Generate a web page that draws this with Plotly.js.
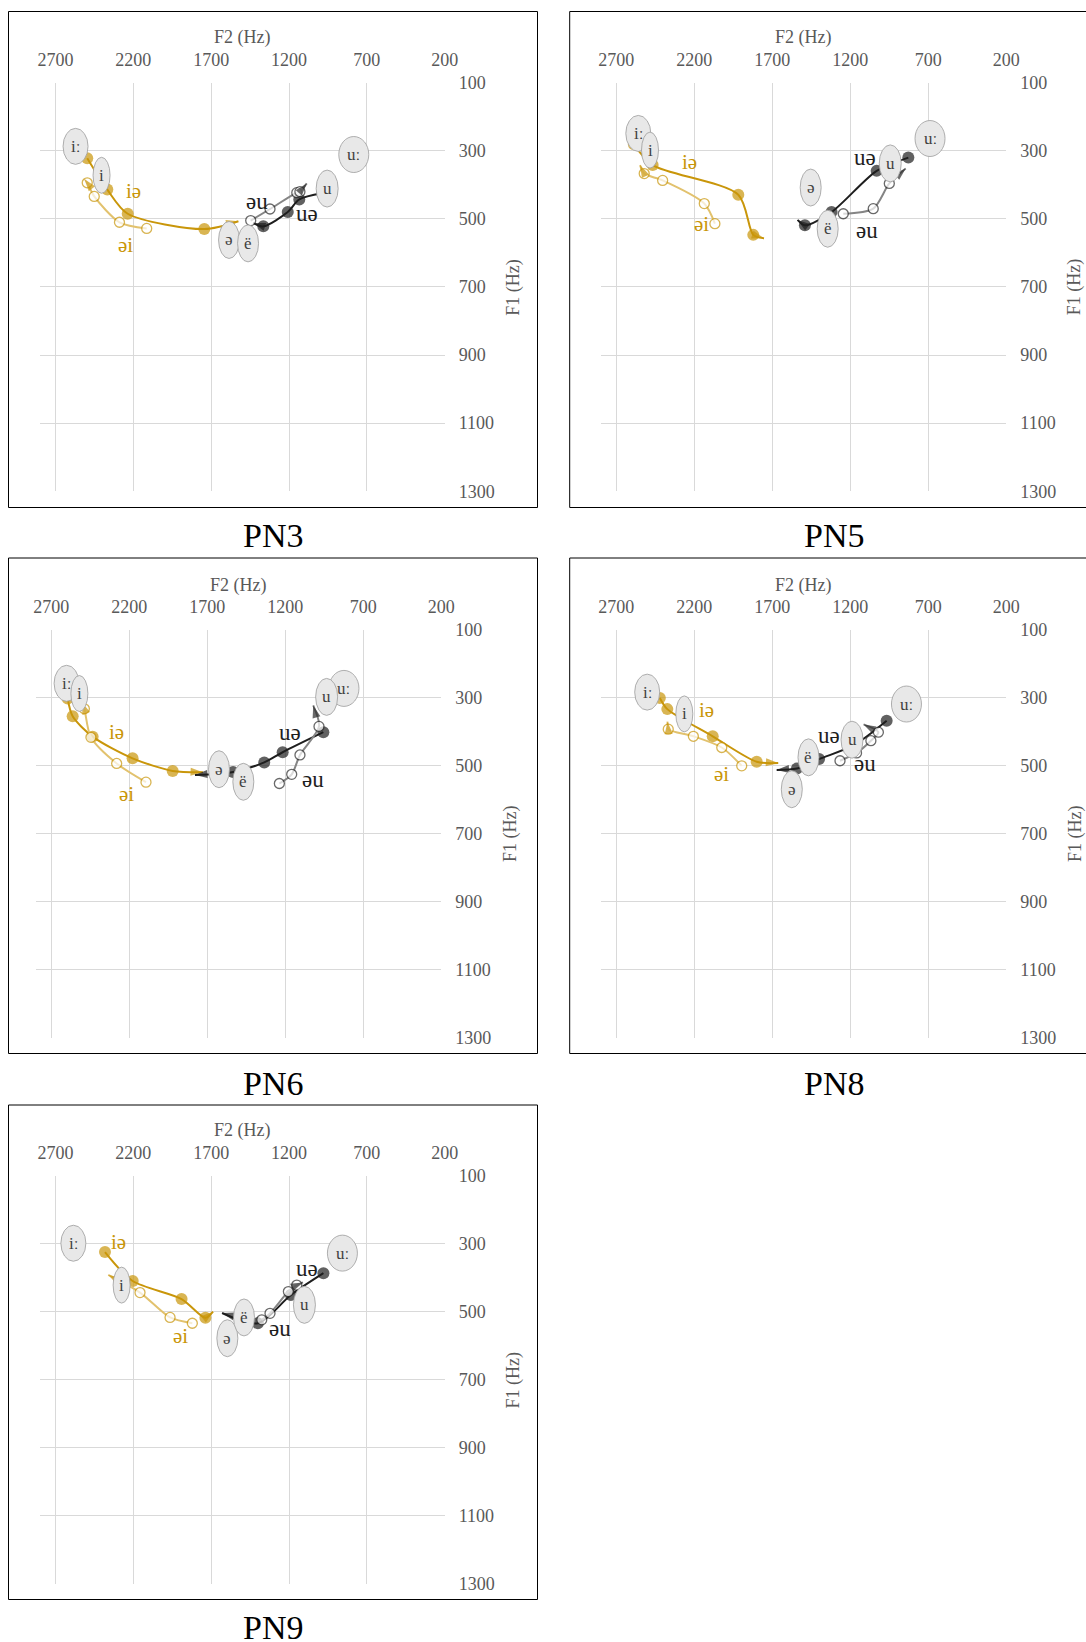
<!DOCTYPE html>
<html><head><meta charset="utf-8">
<script src="https://cdn.plot.ly/plotly-3.0.1.min.js"></script>
<style>html,body{margin:0;padding:0;background:#fff;} #chart{width:1086px;height:1642px;}</style>
</head><body><div id="chart"></div>
<script>
// ---------------- DATA ----------------
const panelNames = ['PN3', 'PN5', 'PN6', 'PN8', 'PN9'];
const vowelLabels = ['iː', 'i', 'uː', 'u', 'ə', 'ë'];
const diphLabels = ['iə', 'əi', 'uə', 'əu'];
const xTickVals = [2700, 2200, 1700, 1200, 700, 200];
const yTickVals = [100, 300, 500, 700, 900, 1100, 1300];

// monophthong centres (F2, F1)
const pn3_vowelF2 = [2571, 2404, 784, 955, 1585, 1463];
const pn3_vowelF1 = [287, 372, 311, 411, 562, 572];
const pn5_vowelF2 = [2559, 2484, 689, 944, 1454, 1345];
const pn5_vowelF1 = [249, 298, 264, 337, 408, 529];
const pn6_vowelF2 = [2602, 2520, 824, 935, 1625, 1469];
const pn6_vowelF1 = [257, 287, 272, 297, 510, 547];
const pn8_vowelF2 = [2502, 2264, 840, 1189, 1575, 1468];
const pn8_vowelF1 = [283, 347, 318, 423, 569, 475];
const pn9_vowelF2 = [2585, 2275, 857, 1101, 1596, 1489];
const pn9_vowelF1 = [299, 422, 328, 480, 578, 517];

// diphthong trajectories (last point = arrow tip)
const pn3_ia_F2 = [2496, 2367, 2236, 1744, 1525];
const pn3_ia_F1 = [322, 414, 485, 530, 507];
const pn3_ai_F2 = [2114, 2289, 2451, 2496, 2515];
const pn3_ai_F1 = [528, 510, 434, 394, 383];
const pn3_ua_F2 = [985, 1134, 1208, 1365, 1430];
const pn3_ua_F1 = [425, 443, 480, 522, 512];
const pn3_au_F2 = [1446, 1322, 1150, 1130, 1086];
const pn3_au_F1 = [505, 471, 423, 420, 396];

const pn5_ia_F2 = [2587, 2467, 1918, 1822, 1753];
const pn5_ia_F1 = [281, 342, 429, 547, 557];
const pn5_ai_F2 = [2068, 2136, 2403, 2521, 2548];
const pn5_ai_F1 = [514, 455, 387, 367, 342];
const pn5_ua_F2 = [828, 1031, 1320, 1491, 1538];
const pn5_ua_F1 = [320, 359, 480, 519, 503];
const pn5_au_F2 = [1245, 1053, 950, 845];
const pn5_au_F1 = [485, 470, 396, 352];

const pn6_ia_F2 = [2595, 2563, 2435, 2179, 1922, 1728];
const pn6_ia_F1 = [302, 354, 414, 478, 515, 519];
const pn6_ai_F2 = [2093, 2281, 2446, 2488, 2505];
const pn6_ai_F1 = [548, 493, 416, 332, 312];
const pn6_ua_F2 = [956, 1217, 1335, 1535, 1779];
const pn6_ua_F1 = [401, 460, 490, 518, 527];
const pn6_au_F2 = [1238, 1159, 1106, 984, 1021];
const pn6_au_F1 = [552, 525, 468, 384, 322];

const pn8_ia_F2 = [2421, 2373, 2082, 1800, 1662];
const pn8_ia_F1 = [300, 333, 413, 488, 492];
const pn8_ai_F2 = [1896, 2024, 2206, 2367, 2371];
const pn8_ai_F1 = [500, 446, 413, 392, 370];
const pn8_ua_F2 = [967, 1180, 1400, 1542, 1672];
const pn8_ua_F1 = [367, 440, 480, 508, 512];
const pn8_au_F2 = [1266, 1160, 1068, 1020, 1115];
const pn8_au_F1 = [485, 462, 426, 401, 378];

const pn9_ia_F2 = [2382, 2204, 1890, 1737, 1688];
const pn9_ia_F1 = [325, 410, 463, 518, 500];
const pn9_ai_F2 = [1821, 1964, 2157, 2361];
const pn9_ai_F1 = [534, 517, 444, 392];
const pn9_ua_F2 = [979, 1188, 1400, 1630];
const pn9_ua_F1 = [387, 451, 534, 504];
const pn9_au_F2 = [1375, 1322, 1204, 1150, 1110];
const pn9_au_F1 = [524, 505, 441, 422, 414];

// ---------------- LAYOUT / STYLE ----------------
const W = 1086, H = 1642;
const FONT = "'Liberation Serif', 'Times New Roman', 'DejaVu Serif', serif";
const GOLD = '#C9960A', GOLD_LIGHT = '#E2C26E', DARK = '#1E1E1E', GREY = '#858585';

// plot area boxes in px [left, top, right, bottom]
const plotBox = [
  [39.9, 82.7, 444.7, 491.2],
  [600.7, 82.7, 1006.3, 491.2],
  [35.7, 630, 441.3, 1037.5],
  [600.7, 630, 1006.3, 1037.5],
  [39.9, 1175.5, 444.7, 1584]
];
const borderBox = [
  [8.5, 11.5, 537.5, 507.5],
  [569.7, 11.5, 1100, 507.5],
  [8.5, 558, 537.5, 1053.5],
  [569.7, 558, 1100, 1053.5],
  [8.5, 1105, 537.5, 1599.5]
];
const captionPos = [[272.5, 535], [834, 535], [272.5, 1083], [834, 1083], [272.5, 1627]];
// diphthong label positions, in data units [F2, F1] per panel (iə, əi, uə, əu)
const diphLabelPos = [
  [[2200, 418], [2253, 576], [1086, 483], [1407, 448]],
  [[2228, 333], [2151, 514], [1105, 319], [1092, 534]],
  [[2279, 399], [2215, 583], [1170, 402], [1022, 539]],
  [[2120, 335], [2024, 525], [1339, 411], [1104, 493]],
  [[2298, 296], [1900, 571], [1084, 372], [1258, 548]]
];
const ellipseSize = { 'iː': [25, 36], 'i': [17, 36], 'uː': [30, 36], 'u': [22, 37], 'ə': [21, 37], 'ë': [21, 37] };

const vowelF2 = [pn3_vowelF2, pn5_vowelF2, pn6_vowelF2, pn8_vowelF2, pn9_vowelF2];
const vowelF1 = [pn3_vowelF1, pn5_vowelF1, pn6_vowelF1, pn8_vowelF1, pn9_vowelF1];
const diphs = [
  [[pn3_ia_F2, pn3_ia_F1], [pn3_ai_F2, pn3_ai_F1], [pn3_ua_F2, pn3_ua_F1], [pn3_au_F2, pn3_au_F1]],
  [[pn5_ia_F2, pn5_ia_F1], [pn5_ai_F2, pn5_ai_F1], [pn5_ua_F2, pn5_ua_F1], [pn5_au_F2, pn5_au_F1]],
  [[pn6_ia_F2, pn6_ia_F1], [pn6_ai_F2, pn6_ai_F1], [pn6_ua_F2, pn6_ua_F1], [pn6_au_F2, pn6_au_F1]],
  [[pn8_ia_F2, pn8_ia_F1], [pn8_ai_F2, pn8_ai_F1], [pn8_ua_F2, pn8_ua_F1], [pn8_au_F2, pn8_au_F1]],
  [[pn9_ia_F2, pn9_ia_F1], [pn9_ai_F2, pn9_ai_F1], [pn9_ua_F2, pn9_ua_F1], [pn9_au_F2, pn9_au_F1]]
];
// style per diphthong: iə filled gold, əi open gold, uə filled dark, əu open dark
const diphStyle = [
  { line: GOLD, lw: 2, mcol: GOLD, open: false, msize: 12, text: GOLD },
  { line: GOLD_LIGHT, lw: 2, mcol: GOLD, open: true, msize: 10, text: GOLD },
  { line: DARK, lw: 2, mcol: DARK, open: false, msize: 12, text: DARK },
  { line: GREY, lw: 2, mcol: '#2A2A2A', open: true, msize: 10, text: DARK }
];

const px2x = p => p / W;
const py2y = p => 1 - p / H;

const traces = [];
const layout = {
  width: W, height: H,
  margin: { l: 0, r: 0, t: 0, b: 0 },
  paper_bgcolor: '#ffffff', plot_bgcolor: 'rgba(0,0,0,0)',
  showlegend: false,
  font: { family: FONT, color: '#595959' },
  shapes: [], annotations: []
};

panelNames.forEach((name, p) => {
  const n = p + 1;
  const xs = n === 1 ? '' : String(n);
  const xid = 'x' + xs, yid = 'y' + xs;
  const [l, t, r, b] = plotBox[p];

  layout['xaxis' + xs] = {
    domain: [px2x(l), px2x(r)], anchor: yid, side: 'top',
    range: [2800, 200], tickmode: 'array', tickvals: xTickVals,
    showgrid: true, gridcolor: '#D9D9D9', gridwidth: 1,
    zeroline: false, showline: false, ticks: '', ticklen: 0,
    ticklabelstandoff: 12,
    tickfont: { family: FONT, size: 18, color: '#595959' },
    fixedrange: true
  };
  layout['yaxis' + xs] = {
    domain: [py2y(b), py2y(t)], anchor: xid, side: 'right',
    range: [1300, 100], tickmode: 'array', tickvals: yTickVals,
    showgrid: true, gridcolor: '#D9D9D9', gridwidth: 1,
    zeroline: false, showline: false, ticks: '', ticklen: 0,
    ticklabelstandoff: 13,
    tickfont: { family: FONT, size: 18, color: '#595959' },
    fixedrange: true
  };

  // axis titles
  layout.annotations.push({
    xref: 'paper', yref: 'paper', x: px2x((l + r) / 2), y: py2y(t - 45),
    text: 'F2 (Hz)', showarrow: false, xanchor: 'center', yanchor: 'middle',
    font: { family: FONT, size: 18, color: '#595959' }
  });
  layout.annotations.push({
    xref: 'paper', yref: 'paper', x: px2x(r + 69), y: py2y((t + b) / 2),
    text: 'F1 (Hz)', showarrow: false, textangle: -90, xanchor: 'center', yanchor: 'middle',
    font: { family: FONT, size: 18, color: '#595959' }
  });
  // caption
  layout.annotations.push({
    xref: 'paper', yref: 'paper', x: px2x(captionPos[p][0]), y: py2y(captionPos[p][1]),
    text: name, showarrow: false, xanchor: 'center', yanchor: 'middle',
    font: { family: FONT, size: 34, color: '#000000' }
  });
  // border
  const bb = borderBox[p];
  layout.shapes.push({
    type: 'rect', xref: 'paper', yref: 'paper', layer: 'above',
    x0: px2x(bb[0]), x1: px2x(bb[2]), y0: py2y(bb[3]), y1: py2y(bb[1]),
    line: { color: '#000000', width: 1 }, fillcolor: 'rgba(0,0,0,0)'
  });

  // diphthong trajectories
  diphs[p].forEach((d, k) => {
    const st = diphStyle[k];
    const F2 = d[0], F1 = d[1];
    const N = F2.length;
    // line with circle markers on every point except the arrow tip
    traces.push({
      type: 'scatter', mode: 'lines+markers', x: F2, y: F1,
      xaxis: xid, yaxis: yid, hoverinfo: 'skip', cliponaxis: false,
      line: { color: st.line, width: st.lw, shape: 'spline', smoothing: 0.8 },
      marker: {
        symbol: 'circle',
        size: F2.map((v, i) => i === N - 1 ? 0 : st.msize),
        color: st.open ? '#ffffff' : st.mcol,
        line: { color: st.mcol, width: st.open ? 1.3 : 0 }
      }
    });
    // arrow head at the end, oriented along the last segment
    traces.push({
      type: 'scatter', mode: 'markers', x: F2.slice(N - 2), y: F1.slice(N - 2),
      xaxis: xid, yaxis: yid, hoverinfo: 'skip', cliponaxis: false,
      marker: { symbol: 'arrow', size: [0, 13], color: st.mcol, angleref: 'previous',
                line: { width: 0 } }
    });
    layout.annotations.push({
      xref: xid, yref: yid, x: diphLabelPos[p][k][0], y: diphLabelPos[p][k][1],
      text: diphLabels[k], showarrow: false, xanchor: 'center', yanchor: 'middle',
      font: { family: FONT, size: k < 2 ? 21 : 23, color: st.text }
    });
  });

  // monophthong ellipses + labels
  vowelLabels.forEach((v, i) => {
    const [w, h] = ellipseSize[v];
    layout.shapes.push({
      type: 'circle', xref: xid, yref: yid, layer: 'above',
      xsizemode: 'pixel', ysizemode: 'pixel',
      xanchor: vowelF2[p][i], yanchor: vowelF1[p][i],
      x0: -w / 2, x1: w / 2, y0: -h / 2, y1: h / 2,
      fillcolor: '#E8E8E8', line: { color: '#9C9C9C', width: 0.8 }
    });
    layout.annotations.push({
      xref: xid, yref: yid, x: vowelF2[p][i], y: vowelF1[p][i],
      text: v, showarrow: false, xanchor: 'center', yanchor: 'middle',
      font: { family: FONT, size: 17, color: '#404040' }
    });
  });
});

Plotly.newPlot('chart', traces, layout, { staticPlot: true, displayModeBar: false });
</script>
</body></html>
